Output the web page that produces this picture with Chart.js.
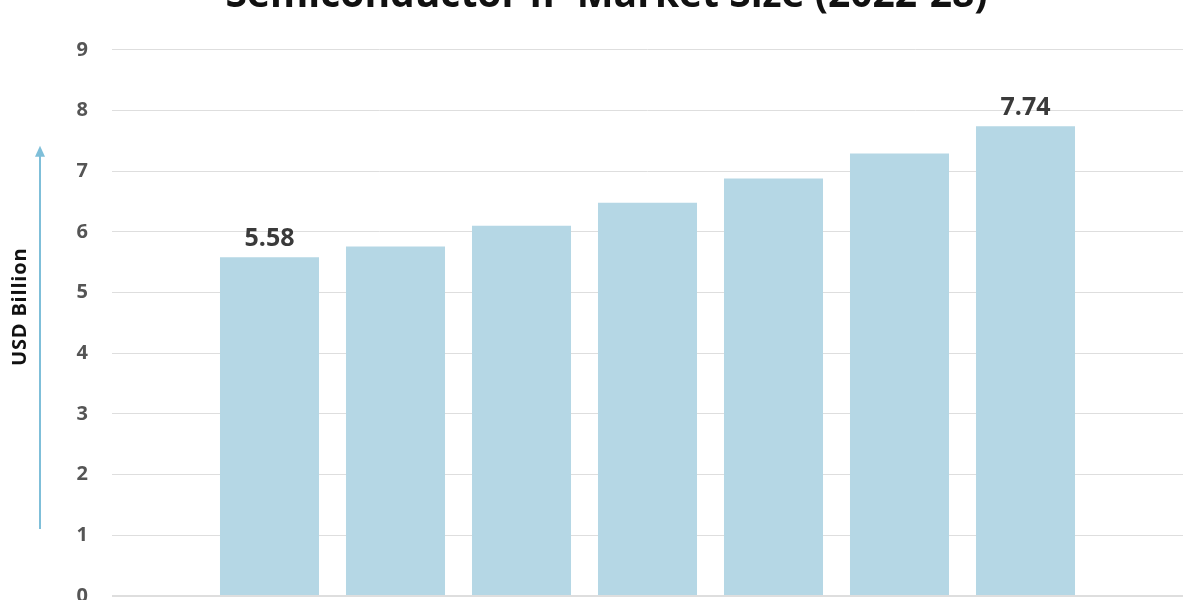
<!DOCTYPE html>
<html>
<head>
<meta charset="utf-8">
<title>Semiconductor IP Market Size</title>
<script src="https://cdn.jsdelivr.net/npm/chart.js@4.4.0/dist/chart.umd.min.js"></script>
<style>
    html, body { margin: 0; padding: 0; background: #fff; overflow: hidden; width: 1200px; height: 600px; }
    #wrap { position: absolute; left: 0; top: -40px; width: 1200px; height: 680px; }
</style>
</head>
<body>
<div id="wrap"><canvas id="marketChart"></canvas></div>

<script>
    // chart data
    const years = ['2022', '2023', '2024', '2025', '2026', '2027', '2028'];
    const marketSize = [5.58, 5.76, 6.10, 6.48, 6.88, 7.29, 7.74];
    const yTickValues = [0, 1, 2, 3, 4, 5, 6, 7, 8, 9];
    const labelledBars = [0, 6];   // only first and last bar carry a value label

    const FONT = '"Open Sans", "DejaVu Sans", sans-serif';

    // value labels above first / last bar
    const valueLabels = {
        id: 'valueLabels',
        afterDatasetsDraw(chart) {
            const ctx = chart.ctx;
            const meta = chart.getDatasetMeta(0);
            ctx.save();
            ctx.font = 'bold 25px ' + FONT;
            ctx.fillStyle = '#3a3a3a';
            ctx.textAlign = 'center';
            ctx.textBaseline = 'alphabetic';
            labelledBars.forEach(i => {
                const bar = meta.data[i];
                ctx.fillText(marketSize[i].toFixed(2), bar.x, bar.y - 11);
            });
            ctx.restore();
        }
    };

    // rotated axis caption with the blue arrow next to it
    const axisCaption = {
        id: 'axisCaption',
        afterDraw(chart) {
            const ctx = chart.ctx;
            const area = chart.chartArea;
            const ax = 40;
            const tip = area.top + 96;
            const end = area.bottom - 67;
            ctx.save();
            ctx.strokeStyle = '#7fbfd9';
            ctx.fillStyle = '#7fbfd9';
            ctx.lineWidth = 2;
            ctx.beginPath();
            ctx.moveTo(ax, end);
            ctx.lineTo(ax, tip + 8);
            ctx.stroke();
            ctx.beginPath();
            ctx.moveTo(ax, tip);
            ctx.lineTo(ax - 5, tip + 11);
            ctx.lineTo(ax + 5, tip + 11);
            ctx.closePath();
            ctx.fill();

            ctx.translate(26, area.top + 257);
            ctx.rotate(-Math.PI / 2);
            ctx.font = 'bold 20px ' + FONT;
            ctx.letterSpacing = '0.8px';
            ctx.fillStyle = '#111';
            ctx.textAlign = 'center';
            ctx.textBaseline = 'alphabetic';
            ctx.fillText('USD Billion', 0, 0);
            ctx.restore();
        }
    };

    function drawChart() {
        const ctx = document.getElementById('marketChart').getContext('2d');
        new Chart(ctx, {
            type: 'bar',
            data: {
                labels: years,
                datasets: [{
                    label: 'Market Size (USD Billion)',
                    data: marketSize.map((v, i) => ({ x: i, y: v })),
                    backgroundColor: '#b5d7e5',
                    borderWidth: 0,
                    barPercentage: 0.786,
                    categoryPercentage: 1.0
                }]
            },
            options: {
                responsive: true,
                maintainAspectRatio: false,
                animation: false,
                layout: { padding: { left: 30, right: 17, top: 0, bottom: 44 } },
                plugins: {
                    legend: { display: false },
                    tooltip: { enabled: false },
                    title: {
                        display: true,
                        text: 'Semiconductor IP Market Size (2022-28)',
                        color: '#111',
                        font: { family: FONT, size: 39, weight: 'bold' },
                        padding: { top: 12, bottom: 31 }
                    }
                },
                scales: {
                    x: {
                        type: 'linear',
                        min: -1.25,
                        max: 7.25,
                        offset: false,
                        display: false
                    },
                    y: {
                        min: 0,
                        max: 9,
                        afterBuildTicks: scale => {
                            scale.ticks = yTickValues.map(v => ({ value: v }));
                        },
                        afterFit: scale => {
                            scale.width = 82;
                        },
                        border: { display: false },
                        grid: {
                            color: '#dedede',
                            lineWidth: c => (c.tick && c.tick.value === 0 ? 2 : 1),
                            drawTicks: false
                        },
                        ticks: {
                            color: '#555',
                            padding: 24,
                            font: { family: FONT, size: 20, weight: 'bold' }
                        }
                    }
                }
            },
            plugins: [valueLabels, axisCaption]
        });
    }

    document.addEventListener('DOMContentLoaded', drawChart);
</script>
</body>
</html>
